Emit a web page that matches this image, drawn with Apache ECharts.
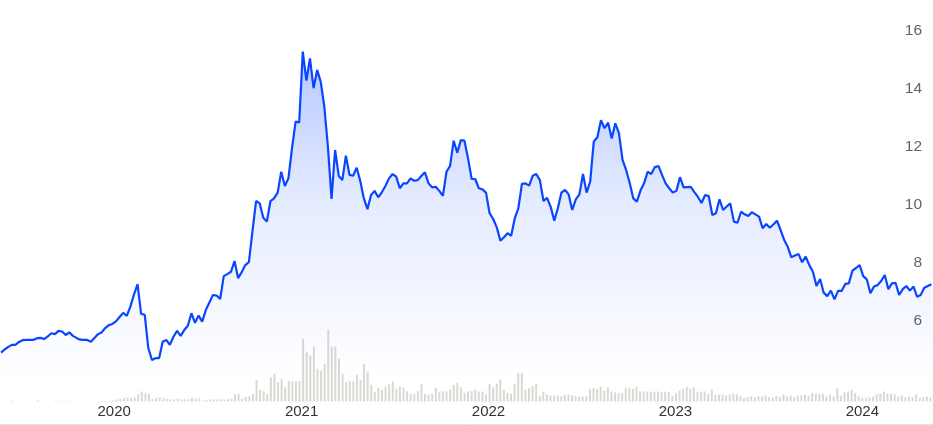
<!DOCTYPE html>
<html>
<head>
<meta charset="utf-8">
<script src="https://cdn.jsdelivr.net/npm/echarts@6/dist/echarts.min.js"></script>
<style>
html,body{margin:0;padding:0;background:#fff;}
#chart{width:933px;height:425px;}
</style>
</head>
<body>
<div id="chart"></div>
<script>
// Weekly series, first week starting 2019-05-27
const startWeek = '2019-05-27';
const prices = [
4.89,5.00,5.09,5.16,5.16,5.26,5.32,5.33,5.33,5.33,
5.39,5.40,5.36,5.45,5.56,5.53,5.64,5.62,5.50,5.59,
5.47,5.40,5.34,5.33,5.33,5.27,5.40,5.53,5.59,5.74,
5.84,5.88,5.97,6.12,6.26,6.16,6.48,6.89,7.25,6.23,
6.20,5.05,4.64,4.70,4.70,5.27,5.33,5.16,5.44,5.64,
5.47,5.67,5.82,6.25,5.92,6.17,5.96,6.36,6.62,6.88,
6.86,6.74,7.53,7.60,7.68,8.05,7.46,7.67,7.91,8.01,
9.09,10.12,10.04,9.54,9.41,10.12,10.21,10.41,11.13,10.64,
10.90,11.94,12.86,12.83,15.27,14.27,15.04,14.01,14.64,14.23,
13.37,11.99,10.19,11.88,10.99,10.84,11.68,11.02,10.99,11.27,
10.81,10.21,9.84,10.33,10.47,10.25,10.42,10.64,10.90,11.05,
10.96,10.56,10.73,10.73,10.90,10.82,10.84,10.98,11.11,10.73,
10.59,10.61,10.47,10.30,11.13,11.33,12.20,11.79,12.22,12.20,
11.59,10.88,10.88,10.56,10.52,10.41,9.70,9.50,9.21,8.75,
8.87,9.01,8.92,9.52,9.87,10.71,10.73,10.65,10.99,11.05,
10.84,10.12,10.23,9.92,9.44,9.87,10.41,10.50,10.35,9.81,
10.18,10.35,11.05,10.41,10.79,12.17,12.32,12.91,12.63,12.82,
12.28,12.80,12.46,11.55,11.19,10.74,10.21,10.10,10.48,10.73,
11.13,11.05,11.29,11.33,11.02,10.73,10.56,10.41,10.47,10.94,
10.59,10.60,10.61,10.43,10.26,10.05,10.33,10.29,9.64,9.70,
10.18,9.81,9.93,10.04,9.41,9.37,9.75,9.66,9.60,9.73,
9.66,9.58,9.18,9.33,9.20,9.31,9.44,9.12,8.78,8.54,
8.18,8.24,8.29,8.01,8.20,7.91,7.68,7.19,7.43,6.96,
6.84,7.03,6.73,7.02,7.02,7.26,7.28,7.72,7.81,7.91,
7.53,7.42,6.94,7.17,7.22,7.36,7.57,7.08,7.28,7.30,
6.88,7.08,7.19,7.03,7.17,6.82,6.88,7.13,7.19,7.25
];
// Weekly volume (millions of shares)
const volumes = [
0,0,0,0.7,0,0,0,0,0,0,
1,0,0,0,0,0.7,0.5,0,0.7,0,
0,0,0,0,0,0,0,0.5,0.5,0.5,
0.7,1,2,2.7,3.3,4,3.3,4.3,7.7,10,
8.3,7.7,2.7,3.7,4,3.3,2.7,2.3,2,2.7,
2.3,2.3,2,3.7,3,3,1,1.7,2,2.3,
2,2.3,2,2.3,2.7,7,7.3,2.7,4.7,5.3,
7.3,21.7,11.7,10.3,7.7,24.3,27.7,19.3,22.7,14.3,
20.3,20.3,20.3,20.3,62.7,49.3,46,55,32.7,31,
37.7,71.7,55,55,42.7,27.7,19.3,20.3,20.3,26.7,
21.7,37.7,30,16.7,9.3,13.7,11.7,15,17.7,20,
12.7,15,13.7,10.3,7.7,7.7,10.3,17.7,7.7,7,
7.7,13.7,9.3,10.3,10.3,12,16.7,18.7,14.3,8.7,
10,10.3,12,10,10,7,17.7,14.3,17.7,22,
11.7,8.7,7.7,17.7,28.7,28.7,11.7,13.3,15.3,17.7,
6,10,7,6,6,6,5.3,7,7,6.3,
5.3,5,5,5,12.7,13.3,12.7,15,11,14.3,
10,9,8.3,8.3,13.3,13.7,12.7,15,10.3,10,
10,10,9.3,10,9.3,10,9.3,5.3,8.3,11,
12.7,14.3,12.7,14,10,9.3,10,7.7,12,6.7,
7,7,6,7,7.7,7,5.3,3.7,4.3,5.3,
4.3,5.3,5,6,4.3,3.7,5.3,4.3,7,5,
6,4.3,6,6,7,6,8.7,7.7,7.7,7.7,
5,7,5,13.3,6,9.3,10,11.7,8.3,5,
3.7,3.7,4.3,5,7,7.7,10,7.7,7.7,7,
5,6,4.3,5,4.3,7,3.7,4.3,5,4.3
];
const priceTicks = [6, 8, 10, 12, 14, 16];
const axisStart = '2019-05-25';
const axisEnd = '2024-05-16';

const DAY = 86400000;
const t0 = Date.parse(startWeek + 'T00:00:00Z');
const dates = prices.map((_, i) => t0 + i * 7 * DAY);
const priceData = prices.map((v, i) => [dates[i], v]);
const volData = volumes.map((v, i) => [dates[i], v]);
const xMin = Date.parse(axisStart + 'T00:00:00Z');
const xMax = Date.parse(axisEnd + 'T00:00:00Z');

const chart = echarts.init(document.getElementById('chart'), null, {renderer: 'canvas'});
chart.setOption({
  animation: false,
  backgroundColor: '#ffffff',
  grid: [
    {left: 0, right: 0, top: 30.5, height: 348},
    {left: 0, right: 0, top: 326.5, height: 75}
  ],
  xAxis: [
    {type: 'time', gridIndex: 0, min: xMin, max: xMax, show: false},
    {type: 'time', gridIndex: 1, min: xMin, max: xMax,
     minInterval: 365 * DAY,
     axisLine: {show: false}, axisTick: {show: false}, splitLine: {show: false},
     axisLabel: {show: true, color: '#333', fontSize: 15, fontFamily: 'Liberation Sans, Arial, sans-serif',
       margin: 3, showMinLabel: false, showMaxLabel: false,
       formatter: function (v) { return String(new Date(v).getUTCFullYear()); }}}
  ],
  yAxis: [
    {type: 'value', gridIndex: 0, position: 'right', min: 4, max: 16, interval: 2,
     axisLine: {show: false}, axisTick: {show: false}, splitLine: {show: false},
     axisLabel: {inside: true, margin: 11, color: '#5f6470', fontSize: 15.5,
       fontFamily: 'Liberation Sans, Arial, sans-serif',
       formatter: function (v) { return priceTicks.indexOf(v) >= 0 ? String(v) : ''; }}},
    {type: 'value', gridIndex: 1, min: 0, max: 75, show: false}
  ],
  series: [
    {type: 'bar', xAxisIndex: 1, yAxisIndex: 1, data: volData, barWidth: 2,
     itemStyle: {color: '#d9d9d4'}, silent: true},
    {type: 'line', xAxisIndex: 0, yAxisIndex: 0, data: priceData, showSymbol: false, symbol: 'none',
     lineStyle: {color: '#0a46ff', width: 2.2},
     areaStyle: {origin: 'start', color: new echarts.graphic.LinearGradient(0, 0, 0, 1, [
       {offset: 0, color: 'rgba(20,80,255,0.45)'},
       {offset: 0.45, color: 'rgba(20,80,255,0.16)'},
       {offset: 1, color: 'rgba(20,80,255,0)'}
     ])},
     z: 3}
  ],
  graphic: [
    {type: 'line', shape: {x1: 0, y1: 424.5, x2: 933, y2: 424.5}, style: {stroke: '#e3e3e3', lineWidth: 1}, silent: true}
  ]
});
</script>
</body>
</html>
